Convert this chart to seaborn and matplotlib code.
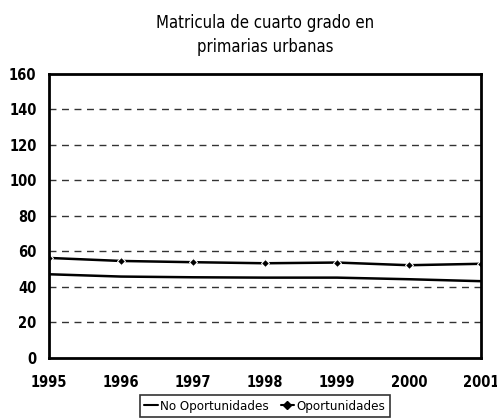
import pandas as pd
import matplotlib
matplotlib.use("Agg")
from matplotlib import pyplot as plt
from matplotlib.lines import Line2D
import seaborn as sns

anios = [1995, 1996, 1997, 1998, 1999, 2000, 2001]
no_oport = [47.1, 45.8, 45.4, 45.2, 45.2, 44.3, 43.2]
oport = [56.3, 54.6, 53.9, 53.3, 53.7, 52.2, 53.0]
series = ["No Oportunidades", "Oportunidades"]

sns.set_style("white")
plt.rcParams['font.family'] = ['DejaVu Sans']
plt.rcParams['font.stretch'] = 'condensed'
plt.rcParams['text.color'] = 'black'
plt.rcParams['xtick.color'] = 'black'
plt.rcParams['ytick.color'] = 'black'

fig = plt.figure(figsize=(4.97, 4.20), dpi=100)
ax = fig.add_axes([0.0986, 0.148, 0.869, 0.676])

# serie sin marcador
sns.lineplot(x=anios, y=no_oport, color="black", linewidth=1.8, ax=ax)
# serie con rombos
sns.lineplot(x=anios, y=oport, color="black", linewidth=1.8, marker="D",
             markersize=4.5, ax=ax)

for y in range(20, 160, 20):
    ax.axhline(y, color="#333333", linestyle=(0, (5, 4)), linewidth=1, zorder=0)

ax.set_xlim(1995, 2001)
ax.set_ylim(0, 160)
ax.set_yticks(range(0, 161, 20))
ax.set_xticks(anios)
ax.tick_params(axis="both", length=0, labelsize=10.5)
ax.tick_params(axis="x", pad=12)
ax.tick_params(axis="y", pad=9)
for lab in ax.get_xticklabels() + ax.get_yticklabels():
    lab.set_fontweight("bold")
ax.set_xlabel("")
ax.set_ylabel("")
for s in ax.spines.values():
    s.set_color("black")
    s.set_linewidth(2)

ax.set_title("Matricula de cuarto grado en\nprimarias urbanas", fontsize=12,
             pad=16, linespacing=1.4)

handles = [Line2D([], [], color="black", lw=1.5),
           Line2D([], [], color="black", lw=1.5, marker="D", markersize=4)]
leg = fig.legend(handles, series, loc="center", bbox_to_anchor=(0.533, 0.033),
                 ncol=2, frameon=True, fontsize=9.5, handlelength=1.0,
                 handletextpad=0.2, columnspacing=0.9, fancybox=False,
                 borderpad=0.35)
leg.get_frame().set_edgecolor("black")
leg.get_frame().set_linewidth(1.2)

fig.savefig("out.png", dpi=100)
